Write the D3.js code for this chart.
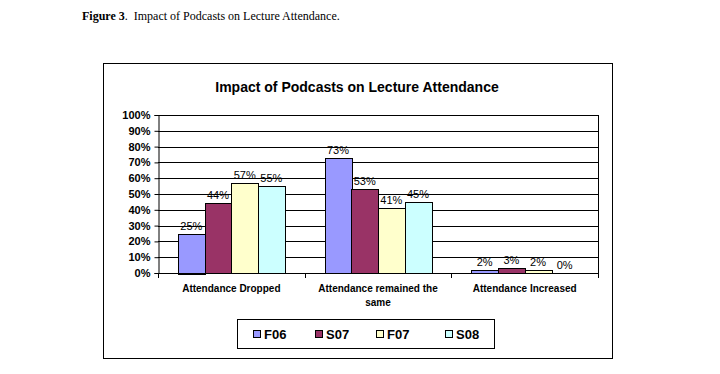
<!DOCTYPE html>
<html><head><meta charset="utf-8">
<script src="https://cdn.jsdelivr.net/npm/d3@7"></script>
<style>body{margin:0;background:#fff}svg{display:block}</style>
</head><body>
<script>
const categories = [["Attendance Dropped"], ["Attendance remained the", "same"], ["Attendance Increased"]];
const seriesNames = ["F06", "S07", "F07", "S08"];
const seriesColors = ["#9999FF", "#993366", "#FFFFCC", "#CCFFFF"];
const F06 = [25, 73, 2];
const S07 = [44, 53, 3];
const F07 = [57, 41, 2];
const S08 = [55, 45, 0];
const yTicks = [0,10,20,30,40,50,60,70,80,90,100];
const values = [F06, S07, F07, S08];

const W = 720, H = 374;
const svg = d3.select("body").append("svg").attr("width", W).attr("height", H);

// caption
const cap = svg.append("text").attr("x", 82).attr("y", 20)
  .attr("font-family", "Liberation Serif, Times New Roman, serif").attr("font-size", 12);
cap.append("tspan").attr("font-weight", "bold").text("Figure 3");
cap.append("tspan").text(".\u00a0 Impact of Podcasts on Lecture Attendance.");

// outer frame
svg.append("rect").attr("x", 103.5).attr("y", 63.5).attr("width", 509).attr("height", 295)
  .attr("fill", "#fff").attr("stroke", "#000").attr("stroke-width", 1);

svg.append("text").attr("x", 357).attr("y", 92).attr("text-anchor", "middle")
  .attr("font-family", "Liberation Sans, Arial, sans-serif").attr("font-weight", "bold")
  .attr("font-size", 14).text("Impact of Podcasts on Lecture Attendance");

const L = 158, R = 598, T = 115, B = 273;
const x = d3.scaleBand().domain(d3.range(categories.length)).range([L, R]).padding(0);
const y = d3.scaleLinear().domain([0, 100]).range([B, T]);
const bw = x.bandwidth();
const xs = d3.scaleBand().domain(d3.range(seriesNames.length)).range([20, bw - 20]).padding(0);

// gridlines
svg.append("g").selectAll("line").data(yTicks.slice(1)).join("line")
  .attr("x1", L).attr("x2", R).attr("y1", d => Math.round(y(d)) + 0.5).attr("y2", d => Math.round(y(d)) + 0.5)
  .attr("stroke", "#000");
svg.append("line").attr("x1", R + 0.5).attr("x2", R + 0.5).attr("y1", T).attr("y2", B).attr("stroke", "#000");

// bars
values.forEach((vals, si) => {
  const g = svg.append("g");
  g.selectAll("rect").data(vals.filter(v => v > 0).length ? vals : []).join("rect")
    .attr("x", (d, i) => Math.round(x(i) + xs(si)) + 0.5)
    .attr("y", d => Math.round(y(d)) + 0.5)
    .attr("width", Math.round(xs.bandwidth()))
    .attr("height", d => Math.round(B - y(d)))
    .attr("fill", seriesColors[si]).attr("stroke", d => d > 0 ? "#000" : "none").attr("stroke-width", 1);
  g.selectAll("text").data(vals).join("text")
    .attr("x", (d, i) => x(i) + xs(si) + xs.bandwidth() / 2)
    .attr("y", d => y(d) - 4)
    .attr("text-anchor", "middle")
    .attr("font-family", "Liberation Sans, Arial, sans-serif").attr("font-size", 11)
    .text(d => d + "%");
});

// y axis
const ya = svg.append("g").attr("transform", `translate(${L + 0.5},0)`)
  .call(d3.axisLeft(y).tickValues(yTicks).tickFormat(d => d + "%").tickSize(4).tickPadding(4));
ya.select(".domain").attr("stroke", "#000");
ya.selectAll("text").attr("font-family", "Liberation Sans, Arial, sans-serif")
  .attr("font-weight", "bold").attr("font-size", 11).attr("fill", "#000");
ya.selectAll("line").attr("stroke", "#000");

// x axis
svg.append("line").attr("x1", L).attr("x2", R + 1).attr("y1", B + 0.5).attr("y2", B + 0.5).attr("stroke", "#000");
const bounds = d3.range(categories.length + 1).map(i => i < categories.length ? x(i) : R);
svg.append("g").selectAll("line").data(bounds).join("line")
  .attr("x1", d => Math.round(d) + 0.5).attr("x2", d => Math.round(d) + 0.5)
  .attr("y1", B).attr("y2", B + 5).attr("stroke", "#000");
const xl = svg.append("g").selectAll("text").data(categories).join("text")
  .attr("x", (d, i) => x(i) + bw / 2).attr("y", 292)
  .attr("text-anchor", "middle")
  .attr("font-family", "Liberation Sans, Arial, sans-serif").attr("font-weight", "bold").attr("font-size", 10);
xl.selectAll("tspan").data(d => d).join("tspan")
  .attr("x", function() { return this.parentNode.getAttribute("x"); })
  .attr("dy", (d, i) => i === 0 ? 0 : 14).text(d => d);

// legend
svg.append("rect").attr("x", 237.5).attr("y", 319.5).attr("width", 257).attr("height", 29)
  .attr("fill", "#fff").attr("stroke", "#000");
const legX = [253, 315, 376, 445];
seriesNames.forEach((n, i) => {
  svg.append("rect").attr("x", legX[i] + 0.5).attr("y", 330.5).attr("width", 7).attr("height", 7)
    .attr("fill", seriesColors[i]).attr("stroke", "#000");
  svg.append("text").attr("x", legX[i] + 11).attr("y", 339)
    .attr("font-family", "Liberation Sans, Arial, sans-serif").attr("font-weight", "bold").attr("font-size", 13)
    .text(n);
});
</script>
</body></html>
